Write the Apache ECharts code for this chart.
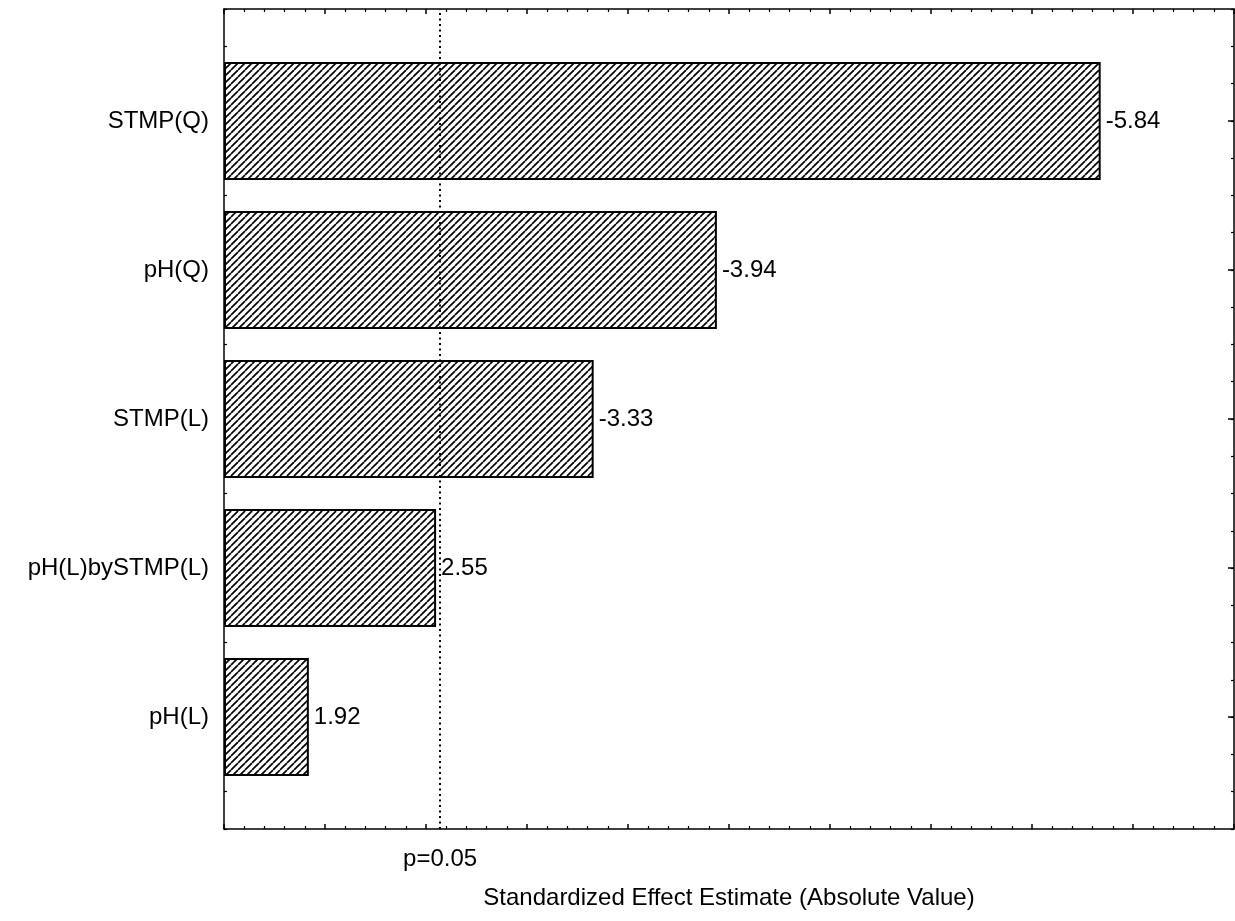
<!DOCTYPE html>
<html>
<head>
<meta charset="utf-8">
<title>Pareto Chart of Standardized Effects</title>
<script src="https://cdn.jsdelivr.net/npm/echarts@6/dist/echarts.min.js"></script>
<style>
  html, body { margin: 0; padding: 0; background: #fff; }
  #chart { width: 1235px; height: 921px; }
</style>
</head>
<body>
<div id="chart"></div>
<script>
// Effects, ordered from largest to smallest absolute value
const categories = ['STMP(Q)', 'pH(Q)', 'STMP(L)', 'pH(L)bySTMP(L)', 'pH(L)'];
const effects = [-5.84, -3.94, -3.33, 2.55, 1.92];
// Critical t value for p = 0.05 (two-sided)
const criticalT = 2.5706;
const criticalLabel = 'p=0.05';
const axisTitle = 'Standardized Effect Estimate (Absolute Value)';

const barLengths = effects.map(v => Math.abs(v));

const FONT = '"Liberation Sans", Arial, Helvetica, sans-serif';
const FONT_SIZE = 24;
const INK = '#000';

// Diagonal hatch fill for the bars
function makeHatch() {
  const s = 7;
  const c = document.createElement('canvas');
  c.width = s; c.height = s;
  const ctx = c.getContext('2d');
  ctx.fillStyle = '#fff';
  ctx.fillRect(0, 0, s, s);
  ctx.strokeStyle = '#000';
  ctx.lineWidth = 1.7;
  for (const k of [-s, 0, s]) {
    ctx.beginPath();
    ctx.moveTo(k, s);
    ctx.lineTo(k + s, 0);
    ctx.stroke();
  }
  return c;
}

const frameLine = { show: true, onZero: false, lineStyle: { color: INK, width: 1.5 } };

function frameX(position) {
  return {
    gridIndex: 0, type: 'value', position: position,
    min: 1.5, max: 6.5, interval: 0.5,
    axisLine: frameLine,
    axisTick: { show: true, inside: true, length: 5, lineStyle: { color: INK, width: 1.5 } },
    minorTick: { show: true, splitNumber: 5, length: 3, lineStyle: { color: INK, width: 1.2 } },
    axisLabel: { show: false },
    splitLine: { show: false },
    minorSplitLine: { show: false }
  };
}

function frameY(position) {
  return {
    gridIndex: 0, type: 'value', position: position,
    min: 0, max: 5.5, interval: 0.25,
    axisLine: frameLine,
    axisTick: { show: true, inside: true, length: 3, lineStyle: { color: INK, width: 1.2 } },
    axisLabel: { show: false },
    splitLine: { show: false }
  };
}

function categoryY(position, showLabels) {
  return {
    gridIndex: 1, type: 'category', position: position, inverse: true,
    data: categories,
    axisLine: { show: false, onZero: false },
    axisTick: { show: true, inside: true, alignWithLabel: true, length: 6, lineStyle: { color: INK, width: 1.5 } },
    axisLabel: { show: showLabels, margin: 15, fontFamily: FONT, fontSize: FONT_SIZE, color: INK },
    splitLine: { show: false }
  };
}

const chart = echarts.init(document.getElementById('chart'), null, { renderer: 'canvas' });

const bottomAxis = frameX('bottom');
bottomAxis.name = axisTitle;
bottomAxis.nameLocation = 'middle';
bottomAxis.nameGap = 57;
bottomAxis.nameTextStyle = { fontFamily: FONT, fontSize: FONT_SIZE, color: INK };

chart.setOption({
  animation: false,
  backgroundColor: '#fff',
  textStyle: { fontFamily: FONT, color: INK },
  grid: [
    { left: 224, top: 9, width: 1010, height: 820, containLabel: false },
    { left: 224, top: 46.5, width: 1010, height: 745, containLabel: false }
  ],
  xAxis: [
    bottomAxis,
    frameX('top'),
    { gridIndex: 1, type: 'value', min: 1.5, max: 6.5, startValue: 1.5, show: false }
  ],
  yAxis: [
    frameY('left'),
    frameY('right'),
    categoryY('left', true),
    categoryY('right', false)
  ],
  series: [
    {
      type: 'bar',
      xAxisIndex: 2,
      yAxisIndex: 2,
      data: barLengths,
      barWidth: 118,
      clip: true,
      itemStyle: {
        color: { image: makeHatch(), repeat: 'repeat' },
        borderColor: INK,
        borderWidth: 2
      },
      label: {
        show: true,
        position: 'right',
        distance: 5,
        fontFamily: FONT,
        fontSize: FONT_SIZE,
        color: INK,
        formatter: p => effects[p.dataIndex].toFixed(2)
      },
      silent: true
    },
    {
      type: 'line',
      xAxisIndex: 0,
      yAxisIndex: 0,
      data: [],
      silent: true,
      markLine: {
        silent: true,
        symbol: ['none', 'none'],
        lineStyle: { color: INK, type: [2, 3.5], width: 2 },
        label: {
          show: true,
          position: 'start',
          distance: 18,
          formatter: criticalLabel,
          fontFamily: FONT,
          fontSize: FONT_SIZE,
          color: INK
        },
        data: [{ xAxis: criticalT }]
      }
    }
  ]
});
</script>
</body>
</html>
